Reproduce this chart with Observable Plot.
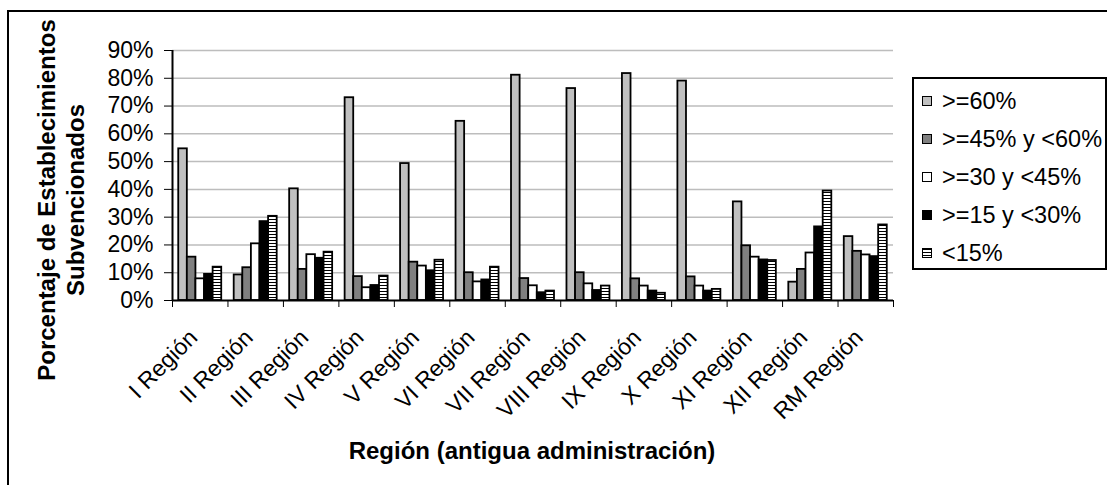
<!DOCTYPE html>
<html><head><meta charset="utf-8">
<script src="https://cdn.jsdelivr.net/npm/d3@7"></script>
<script src="https://cdn.jsdelivr.net/npm/@observablehq/plot@0.6"></script>
<style>
html,body{margin:0;padding:0;overflow:hidden;background:#fff;width:1107px;height:485px;}
#wrap{position:relative;width:1107px;height:485px;font-family:"Liberation Sans",Arial,sans-serif;color:#000;overflow:hidden;}
#chart{position:absolute;left:0;top:0;}
#border{position:absolute;left:7px;top:10px;width:1130px;height:500px;border:2px solid #000;box-sizing:border-box;pointer-events:none;}
#legend{position:absolute;left:912px;top:77px;width:195px;height:193px;border:2px solid #000;box-sizing:border-box;background:#fff;padding-top:3px;}
.item{height:38px;display:flex;align-items:center;font-size:23.5px;white-space:pre;}
.sw{width:8px;height:8px;border:1.5px solid #000;margin-left:8px;margin-right:10px;flex:none;}
#ytitle{position:absolute;left:61px;top:200px;transform:translate(-50%,-50%) rotate(-90deg);font-weight:bold;font-size:24px;line-height:29px;text-align:center;white-space:nowrap;}
#xtitle{position:absolute;left:532px;top:451px;transform:translate(-50%,-50%);font-weight:bold;font-size:24px;white-space:nowrap;}
</style></head>
<body><div id="wrap"><div id="chart"></div><div id="ytitle"></div><div id="xtitle"></div><div id="legend"></div><div id="border"></div></div>
<script>
const regions = ["I Región","II Región","III Región","IV Región","V Región","VI Región","VII Región","VIII Región","IX Región","X Región","XI Región","XII Región","RM Región"];
const seriesNames = [">=60%", ">=45% y <60%", ">=30 y <45%", ">=15 y <30%", "<15%"];
const s60 = [54.6, 9.2, 40.2, 73.0, 49.3, 64.5, 81.1, 76.3, 81.7, 79.0, 35.5, 6.6, 23.0];
const s45 = [15.6, 11.8, 11.2, 8.6, 13.8, 10.0, 7.9, 10.0, 7.8, 8.5, 19.7, 11.2, 17.7];
const s30 = [7.8, 20.4, 16.5, 4.6, 12.4, 6.7, 5.3, 6.0, 5.2, 5.2, 15.6, 17.1, 16.4];
const s15 = [9.4, 28.4, 15.2, 5.4, 10.7, 7.4, 2.8, 3.6, 3.4, 3.4, 14.6, 26.5, 15.8];
const s0  = [12.0, 30.3, 17.4, 8.8, 14.5, 12.0, 3.4, 5.2, 2.6, 4.0, 14.4, 39.4, 27.2];
const yTicks = [0, 10, 20, 30, 40, 50, 60, 70, 80, 90];
const yTitle = ["Porcentaje de Establecimientos", "Subvencionados"];
const xTitle = "Región (antigua administración)";

const seriesValues = [s60, s45, s30, s15, s0];
const fills = ["#c0c0c0", "#808080", "#ffffff", "#000000", "url(#hatch)"];
const legendBg = ["#c0c0c0", "#808080", "#ffffff", "#000000", "repeating-linear-gradient(to bottom,#000 0 1px,#fff 1px 3px)"];

const gap = 0.225, bw = (1 - gap) / seriesNames.length;
const rows = seriesNames.map((name, si) => regions.map((r, ri) => ({region: r, ri, si, series: name, value: seriesValues[si][ri] / 100})));

const chart = Plot.plot({
  width: 1107, height: 485,
  marginLeft: 172, marginRight: 214, marginTop: 50, marginBottom: 185,
  style: {fontFamily: "Liberation Sans, Arial, sans-serif", fontSize: "23px", color: "#000", background: "transparent", overflow: "visible"},
  x: {domain: [0, regions.length], ticks: d3.range(regions.length + 1), tickFormat: () => "", tickSize: 7, label: null},
  y: {domain: [0, 0.9], ticks: yTicks.map(v => v / 100), tickFormat: d3.format(".0%"), tickSize: 8, tickPadding: 11, label: null},
  marks: [
    Plot.ruleY(yTicks.slice(1).map(v => v / 100), {stroke: "#bdbdbd", strokeWidth: 1.5}),
    ...rows.map((data, si) => Plot.rectY(data, {
      x1: d => d.ri + gap / 2 + d.si * bw,
      x2: d => d.ri + gap / 2 + (d.si + 1) * bw,
      y1: 0, y2: "value",
      fill: fills[si], stroke: "#000", strokeWidth: 1.8
    })),
    Plot.ruleY([0], {stroke: "#000", strokeWidth: 2}),
    Plot.ruleX([0], {y1: 0, y2: 0.9, stroke: "#000", strokeWidth: 2}),
    Plot.text(regions, {x: (d, i) => i + 0.5, y: 0, text: d => d, rotate: -45, textAnchor: "end", lineAnchor: "top", dx: -13, dy: 27, fontSize: 23, fill: "#000"})
  ]
});
const defs = document.createElementNS("http://www.w3.org/2000/svg", "defs");
defs.innerHTML = '<pattern id="hatch" patternUnits="userSpaceOnUse" width="6" height="3"><rect width="6" height="3" fill="#fff"/><rect width="6" height="1" fill="#000"/></pattern>';
chart.prepend(defs);
document.getElementById("chart").appendChild(chart);

document.getElementById("ytitle").innerHTML = yTitle.join("<br>");
document.getElementById("xtitle").textContent = xTitle;
const leg = document.getElementById("legend");
seriesNames.forEach((name, i) => {
  const it = document.createElement("div"); it.className = "item";
  const sw = document.createElement("span"); sw.className = "sw"; sw.style.background = legendBg[i];
  const tx = document.createElement("span"); tx.textContent = name;
  it.appendChild(sw); it.appendChild(tx); leg.appendChild(it);
});
</script></body></html>
